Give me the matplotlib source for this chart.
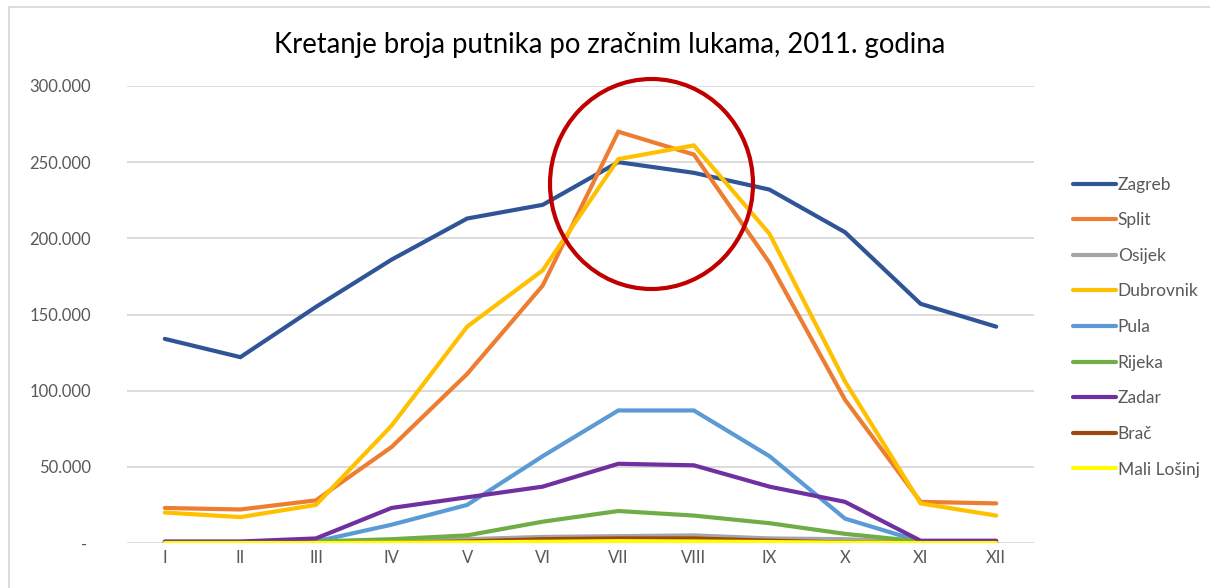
"""Passenger traffic by Croatian airports, 2011 (monthly)."""

import matplotlib
matplotlib.use("Agg")
import matplotlib.pyplot as plt
import matplotlib.patches as mpatches
from matplotlib.ticker import FuncFormatter

FONT = "Lato"
plt.rcParams["font.family"] = [FONT, "DejaVu Sans"]

months = ["I", "II", "III", "IV", "V", "VI", "VII", "VIII", "IX", "X", "XI", "XII"]

zagreb = [134000, 122000, 155000, 186000, 213000, 222000, 250000, 243000, 232000, 204000, 157000, 142000]
split = [23000, 22000, 28000, 63000, 111000, 169000, 270000, 255000, 184000, 94000, 27000, 26000]
osijek = [500, 500, 1000, 1500, 2500, 4000, 4500, 5000, 3000, 2500, 500, 500]
dubrovnik = [20000, 17000, 25000, 77000, 142000, 179000, 252000, 261000, 203000, 106000, 26000, 18000]
pula = [300, 500, 1000, 12000, 25000, 57000, 87000, 87000, 57000, 16000, 1000, 500]
rijeka = [500, 500, 1000, 2500, 5000, 14000, 21000, 18000, 13000, 6000, 1000, 500]
zadar = [1000, 1000, 3000, 23000, 30000, 37000, 52000, 51000, 37000, 27000, 1500, 1500]
brac = [0, 0, 0, 200, 1000, 2500, 3000, 3000, 1500, 300, 0, 0]
mali_losinj = [0, 0, 0, 200, 400, 800, 1200, 1000, 600, 200, 0, 0]

series = [
    ("Zagreb", zagreb, "#2F5597"),
    ("Split", split, "#ED7D31"),
    ("Osijek", osijek, "#A5A5A5"),
    ("Dubrovnik", dubrovnik, "#FFC000"),
    ("Pula", pula, "#5B9BD5"),
    ("Rijeka", rijeka, "#70AD47"),
    ("Zadar", zadar, "#7030A0"),
    ("Brač", brac, "#9E480E"),
    ("Mali Lošinj", mali_losinj, "#FFFF00"),
]

W, H = 1210, 588
TICK = "#595959"
GRID = "#D9D9D9"


def fmt(v, _pos):
    # Excel accounting style: dash for zero, dots as thousands separator
    if v == 0:
        return "- "
    return f"{int(v):,}".replace(",", ".")


fig = plt.figure(figsize=(W / 100, H / 100), dpi=100)
fig.patch.set_facecolor("white")
ax = fig.add_axes([127 / W, 1 - 543 / H, (1034 - 127) / W, (543 - 86) / H])

x = list(range(len(months)))
for name, vals, color in series:
    ax.plot(x, vals, color=color, lw=3, label=name, solid_capstyle="round",
            solid_joinstyle="miter")

ax.set_xlim(-0.5, len(months) - 0.5)
ax.set_ylim(0, 300000)
ax.set_yticks(range(0, 300001, 50000))
ax.yaxis.set_major_formatter(FuncFormatter(fmt))
ax.set_xticks(x)
ax.set_xticklabels(months)
ax.tick_params(axis="both", length=0, colors=TICK, labelsize=12)
ax.tick_params(axis="y", pad=26)
ax.tick_params(axis="x", pad=5)
ax.grid(axis="y", color=GRID, lw=1.3)
ax.set_axisbelow(True)
for s in ax.spines.values():
    s.set_visible(False)

fig.text(610 / W, 1 - 45 / H, "Kretanje broja putnika po zračnim lukama, 2011. godina",
         fontsize=19.8, color="#000000", ha="center", va="center")

handles, labels = ax.get_legend_handles_labels()
leg = fig.legend(handles, labels, loc="upper left",
                 bbox_to_anchor=(1057 / W, 1 - 161 / H), frameon=False,
                 fontsize=12.5, handlelength=2.5, handletextpad=0.1,
                 labelspacing=1.13, labelcolor=TICK)

# red highlight circle around the summer peak
fig.patches.append(mpatches.Ellipse((651.5 / W, 1 - 184 / H), 203 / W, 210 / H,
                                    transform=fig.transFigure, fill=False,
                                    ec="#C00000", lw=3))
# chart-area border (continues past the crop on the right and bottom)
fig.patches.append(mpatches.Rectangle((9 / W, -0.1), 1.2, 1 - 7 / H + 0.1,
                                      transform=fig.transFigure, fill=False,
                                      ec=GRID, lw=1.3))

fig.savefig("out.png", dpi=100, facecolor="white")
plt.close()
